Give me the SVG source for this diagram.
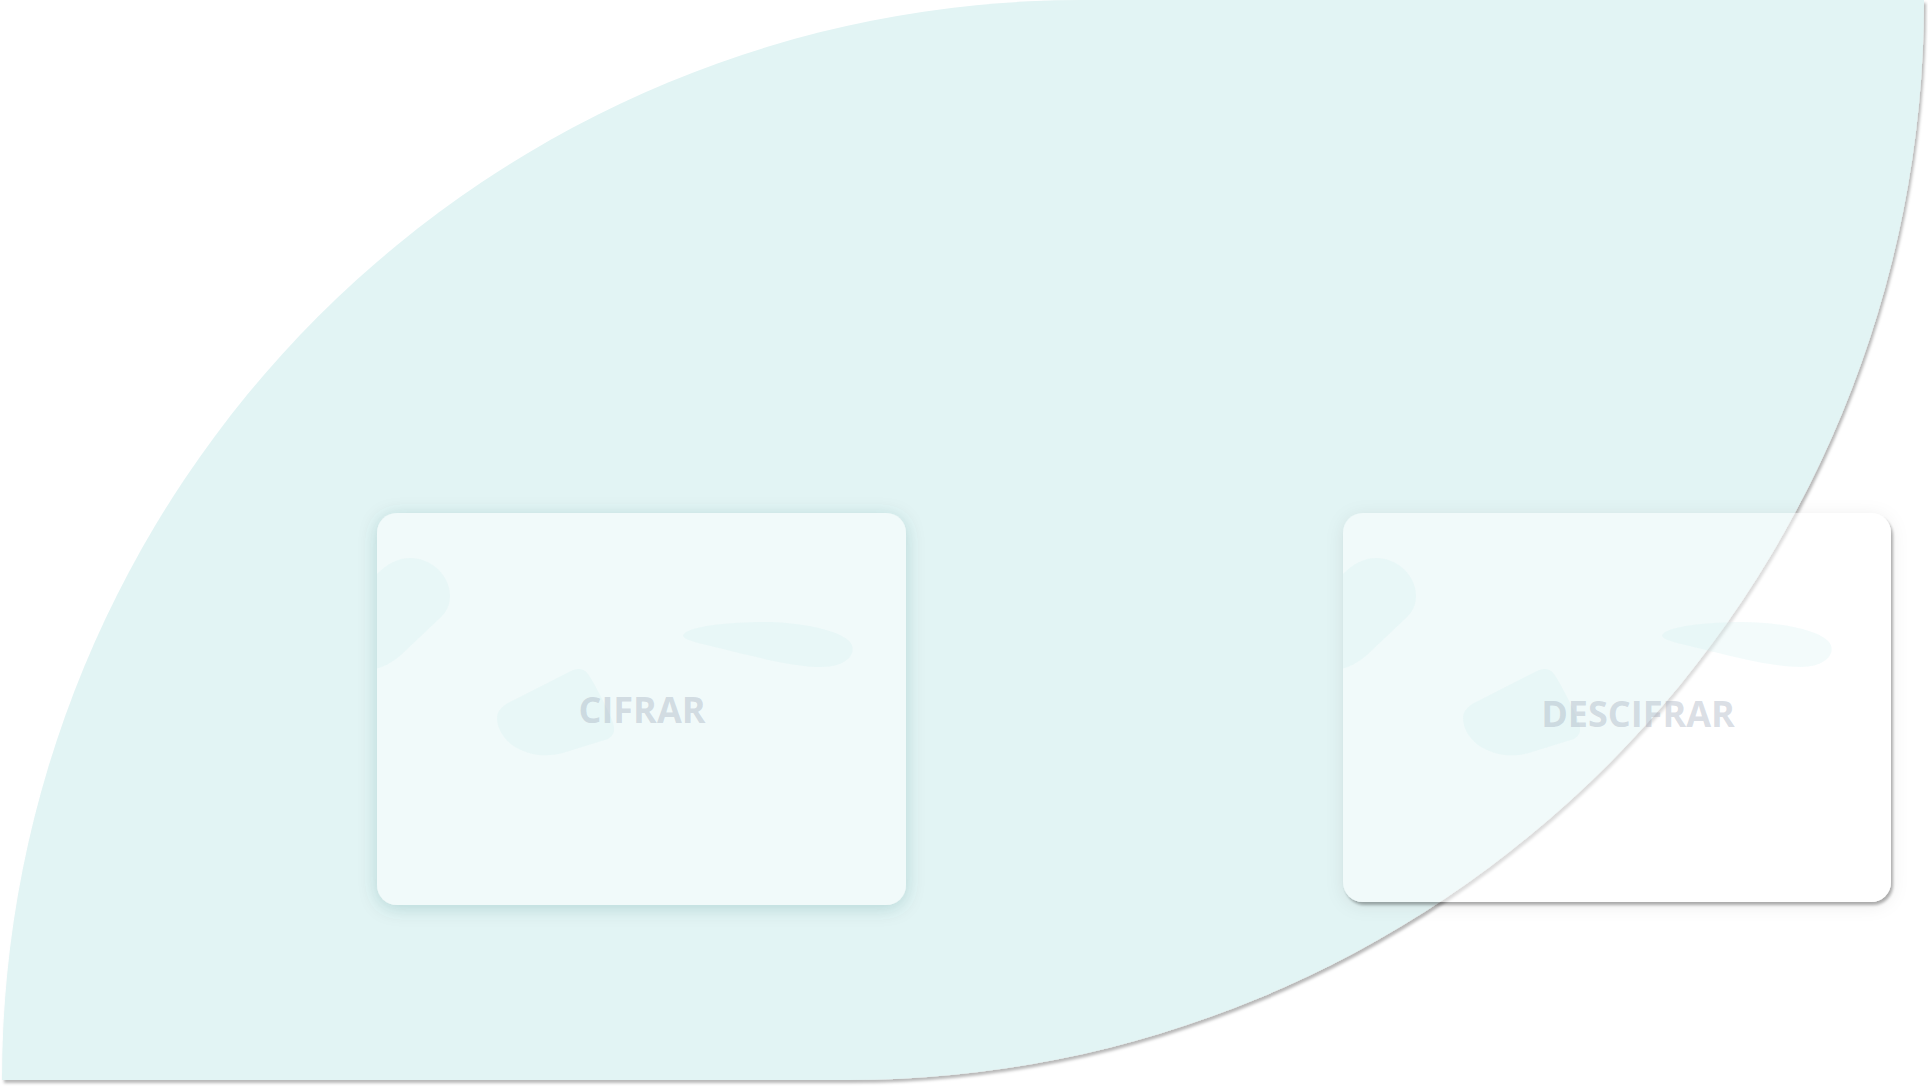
<svg xmlns="http://www.w3.org/2000/svg" width="1928" height="1088" viewBox="0 0 1928 1088">
  <defs>
    <style>
      .leaf { fill: #e2f4f4; }
      .card { fill: #ffffff; fill-opacity: 0.5; }
      .blob { fill: #d2eeee; fill-opacity: 0.26; }
      .label { font-family: "Open Sans", "Noto Sans", "Liberation Sans", sans-serif; font-weight: 700; font-size: 36px; fill: #98a3b6; fill-opacity: 0.36; text-anchor: middle; }
    </style>
    <filter id="leafShadow" x="-5%" y="-5%" width="110%" height="110%">
      <feDropShadow dx="2" dy="3" stdDeviation="1.5" flood-color="#000000" flood-opacity="0.28"/>
    </filter>
    <filter id="cardShadow1" x="-10%" y="-12%" width="120%" height="130%">
      <feComponentTransfer in="SourceAlpha" result="a"><feFuncA type="linear" slope="2"/></feComponentTransfer>
      <feGaussianBlur in="a" stdDeviation="9" result="b2"/>
      <feOffset in="b2" dx="0" dy="3" result="o2"/>
      <feFlood flood-color="#1f5f5f" flood-opacity="0.2"/>
      <feComposite in2="o2" operator="in" result="s2"/>
      <feComposite in="s2" in2="a" operator="out" result="so"/>
      <feMerge><feMergeNode in="so"/><feMergeNode in="SourceGraphic"/></feMerge>
    </filter>
    <filter id="cardShadow2" x="-10%" y="-12%" width="120%" height="130%">
      <feComponentTransfer in="SourceAlpha" result="a"><feFuncA type="linear" slope="2"/></feComponentTransfer>
      <feGaussianBlur in="a" stdDeviation="1.5" result="b1"/>
      <feOffset in="b1" dx="2" dy="3" result="o1"/>
      <feFlood flood-color="#000000" flood-opacity="0.3"/>
      <feComposite in2="o1" operator="in" result="s1"/>
      <feGaussianBlur in="a" stdDeviation="9" result="b2"/>
      <feOffset in="b2" dx="0" dy="3" result="o2"/>
      <feFlood flood-color="#000000" flood-opacity="0.08"/>
      <feComposite in2="o2" operator="in" result="s2"/>
      <feMerge result="s"><feMergeNode in="s2"/><feMergeNode in="s1"/></feMerge>
      <feComposite in="s" in2="a" operator="out" result="so"/>
      <feMerge><feMergeNode in="so"/><feMergeNode in="SourceGraphic"/></feMerge>
    </filter>
    <clipPath id="clip1"><rect x="377" y="513" width="529" height="392" rx="20"/></clipPath>
    <clipPath id="clip2"><rect x="1343" y="513" width="548" height="389" rx="20"/></clipPath>
    <path id="blobA" d="M 360 600 C 370 576 390 558 410 558 C 432 558 450 576 450 596 C 450 606 446 612 440 618 L 402 654 C 392 663 380 670 360 672 Z"/>
    <path id="blobB" d="M 508 703 L 571 671 C 577 668 584 668 588 674 C 596 686 606 706 612 720 C 616 730 614 735 608 739 L 566 752 C 548 758 528 756 512 745 C 503 738 497 728 497 718 C 497 712 501 707 508 703 Z"/>
    <path id="blobC" d="M 684 634 C 690 626 730 622 764 622 C 800 622 840 630 850 642 C 858 652 848 667 822 667 C 795 667 760 658 735 652 C 705 644 678 640 684 634 Z"/>
  </defs>

  <rect x="0" y="0" width="1928" height="1088" fill="#ffffff"/>

  <g id="background-leaf">
    <path class="leaf" filter="url(#leafShadow)" d="M 1082 0 L 1924 0 A 1076 1080 0 0 1 848 1080 L 2 1080 A 1080 1080 0 0 1 1082 0 Z"/>
  </g>

  <g id="connectors"></g>

  <g id="node-cifrar">
    <rect class="card" filter="url(#cardShadow1)" x="377" y="513" width="529" height="392" rx="20"/>
    <g clip-path="url(#clip1)">
      <use href="#blobA" class="blob"/>
      <use href="#blobB" class="blob"/>
      <use href="#blobC" class="blob"/>
    </g>
    <text class="label" x="642" y="723">CIFRAR</text>
  </g>

  <g id="node-descifrar">
    <rect class="card" filter="url(#cardShadow2)" x="1343" y="513" width="548" height="389" rx="20"/>
    <g clip-path="url(#clip2)">
      <use href="#blobA" class="blob" transform="translate(966 0)"/>
      <use href="#blobB" class="blob" transform="translate(966 0)"/>
      <use href="#blobC" class="blob" transform="translate(979 0)"/>
    </g>
    <text class="label" x="1638" y="727">DESCIFRAR</text>
  </g>
</svg>
